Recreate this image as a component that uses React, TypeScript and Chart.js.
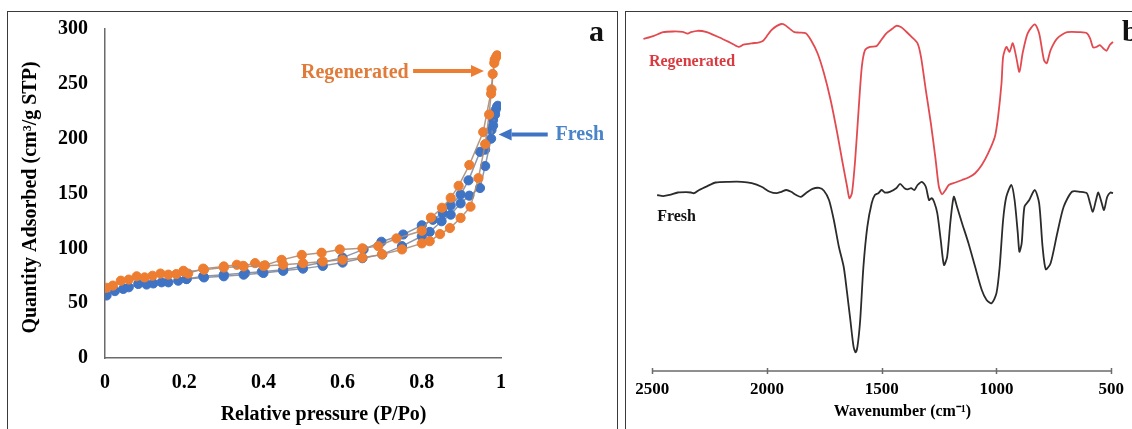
import React, { useEffect, useRef } from 'react';
import { Chart, registerables } from 'chart.js';
Chart.register(...registerables);

const SERIF = '"Liberation Serif", "Times New Roman", serif';
const ORANGE = '#ED7D31';
const BLUE = '#3F73C4';
const ORANGE_TEXT = '#E07B39';
const BLUE_TEXT = '#4A84C8';
const AXIS_GRAY = '#6b6b6b';
const RED = '#E34A50';
const RED_TEXT = '#D93A3F';
const BLACK = '#2b2b2b';

// ---------- Panel a: N2 isotherms ----------
const X_TICKS_A = [0, 0.2, 0.4, 0.6, 0.8, 1];
const Y_TICKS_A = [0, 50, 100, 150, 200, 250, 300];

const REGEN_ADS_P = [0.004, 0.02, 0.04, 0.06, 0.08, 0.1, 0.12, 0.14, 0.16, 0.18, 0.2, 0.25, 0.3, 0.35, 0.4, 0.45, 0.5, 0.55, 0.6, 0.65, 0.7, 0.75, 0.8, 0.82, 0.846, 0.871, 0.898, 0.923, 0.943, 0.96, 0.97, 0.975, 0.979, 0.983, 0.987];
const REGEN_ADS_Q = [64, 66, 70.5, 71.5, 74.5, 73.5, 75, 77, 76, 76.5, 78.5, 80.5, 82.5, 83.5, 84, 85, 86.5, 88, 89.5, 91.5, 94.5, 99, 104.5, 106.5, 113, 118.5, 127.7, 138, 164, 195, 222, 241, 259, 269, 274];
const REGEN_DES_P = [0.99, 0.984, 0.976, 0.955, 0.92, 0.893, 0.873, 0.851, 0.823, 0.8, 0.736, 0.69, 0.65, 0.593, 0.547, 0.497, 0.446, 0.404, 0.379, 0.349, 0.333, 0.3, 0.248, 0.21, 0.198];
const REGEN_DES_Q = [276, 272, 245, 206, 176, 157, 146, 137, 128, 116, 109, 102, 100, 99, 96, 94, 89.5, 84.5, 86.5, 84, 85, 83.5, 81.5, 77, 79.5];

const FRESH_ADS_P = [0.004, 0.025, 0.046, 0.06, 0.084, 0.105, 0.122, 0.143, 0.16, 0.185, 0.206, 0.25, 0.3, 0.35, 0.4, 0.45, 0.5, 0.55, 0.6, 0.65, 0.7, 0.75, 0.8, 0.82, 0.85, 0.873, 0.898, 0.92, 0.947, 0.96, 0.975, 0.98, 0.985, 0.99];
const FRESH_ADS_Q = [57, 61, 63, 64.5, 67.5, 67, 68, 69, 69, 70.5, 72, 73.5, 74.5, 76, 77.5, 79.5, 81.5, 84, 87, 91, 94.5, 102, 111, 115, 124.7, 130.7, 141, 148, 155, 175, 200, 212, 222, 229];
const FRESH_DES_P = [0.992, 0.986, 0.98, 0.976, 0.96, 0.947, 0.918, 0.898, 0.873, 0.853, 0.828, 0.8, 0.753, 0.698, 0.653, 0.6, 0.547, 0.497, 0.45, 0.396, 0.354, 0.3, 0.248, 0.206];
const FRESH_DES_Q = [230, 226, 217, 208, 190, 188, 162, 149, 139, 132, 126, 121, 112.6, 106, 99, 91.5, 87, 83.5, 80.5, 78.6, 77.5, 76, 74.5, 72];

// annotation anchors (data coordinates)
const REGEN_LABEL_A = [0.631, 260];
const REGEN_ARROW_A = [0.778, 0.957, 261.7];
const FRESH_LABEL_A = [1.199, 203.3];
const FRESH_ARROW_A = [1.118, 0.994, 203.9];

// ---------- Panel b: FTIR spectra ----------
const X_TICKS_B = [2500, 2000, 1500, 1000, 500];

const REGEN_WN = [2539, 2496, 2453, 2410, 2368, 2346, 2332, 2303, 2267, 2210, 2167, 2124, 2103, 2067, 2038, 2017, 2002, 1981, 1959, 1938, 1924, 1902, 1881, 1859, 1831, 1809, 1780, 1752, 1723, 1694, 1673, 1651, 1641, 1630, 1616, 1601, 1587, 1573, 1551, 1523, 1508, 1480, 1451, 1437, 1415, 1394, 1372, 1344, 1329, 1308, 1286, 1265, 1251, 1237, 1222, 1208, 1179, 1150, 1122, 1093, 1064, 1036, 1007, 993, 978, 971, 957, 943, 929, 914, 900, 886, 864, 833, 814, 793, 781, 764, 735, 692, 635, 606, 592, 578, 563, 549, 535, 520, 506, 492];
const REGEN_T = [93.0, 93.8, 94.9, 95.1, 95.0, 94.5, 94.9, 95.3, 95.0, 93.5, 92.2, 90.8, 91.4, 91.8, 92.0, 92.5, 93.7, 95.5, 96.6, 97.2, 97.0, 95.9, 94.9, 94.8, 94.6, 92.7, 89.0, 83.4, 75.9, 66.6, 59.1, 51.6, 48.4, 49.8, 59.1, 73.1, 85.2, 89.9, 90.8, 91.0, 92.2, 94.6, 96.0, 96.7, 96.3, 95.1, 93.7, 91.8, 88.0, 78.7, 69.4, 59.1, 51.6, 49.5, 50.7, 52.1, 52.8, 53.5, 54.2, 55.4, 57.7, 61.0, 65.6, 71.2, 80.6, 88.0, 90.8, 89.4, 91.8, 88.0, 83.8, 89.0, 94.6, 97.1, 94.6, 87.1, 86.2, 89.9, 93.2, 94.9, 94.9, 94.6, 93.2, 90.6, 90.8, 91.3, 90.4, 89.7, 91.3, 92.2];

const FRESH_WN = [2479, 2453, 2425, 2389, 2353, 2332, 2318, 2296, 2260, 2224, 2167, 2110, 2067, 2024, 1988, 1959, 1938, 1916, 1895, 1873, 1852, 1831, 1802, 1773, 1752, 1730, 1709, 1687, 1666, 1651, 1637, 1623, 1614, 1606, 1594, 1580, 1563, 1544, 1530, 1515, 1501, 1487, 1465, 1437, 1420, 1401, 1387, 1372, 1358, 1344, 1325, 1308, 1294, 1282, 1272, 1258, 1243, 1229, 1215, 1200, 1186, 1172, 1150, 1122, 1093, 1064, 1043, 1021, 1000, 986, 971, 957, 935, 921, 907, 900, 890, 878, 857, 833, 814, 799, 785, 764, 735, 707, 671, 635, 606, 592, 580, 566, 556, 541, 531, 517, 503, 492];
const FRESH_T = [49.3, 49.0, 49.3, 50.0, 50.1, 50.0, 49.8, 50.7, 51.8, 52.8, 53.0, 53.0, 52.6, 51.6, 50.2, 49.8, 50.2, 50.7, 50.2, 49.3, 48.8, 49.8, 51.0, 51.3, 50.5, 47.9, 42.3, 34.8, 29.2, 21.8, 14.3, 6.8, 5.2, 6.8, 14.3, 29.2, 40.4, 47.0, 49.3, 49.8, 50.7, 50.0, 50.2, 51.2, 52.4, 51.2, 50.9, 51.2, 50.7, 52.1, 53.0, 51.6, 47.9, 48.4, 47.4, 44.2, 36.7, 29.7, 32.0, 42.3, 48.8, 46.0, 41.4, 35.8, 29.2, 22.7, 19.9, 19.0, 21.8, 29.2, 42.3, 48.8, 52.1, 47.9, 38.6, 33.4, 35.8, 46.0, 47.9, 50.7, 47.0, 34.8, 28.5, 30.2, 38.6, 46.0, 50.2, 50.2, 49.8, 47.0, 44.6, 47.9, 50.0, 47.0, 45.1, 48.8, 50.0, 49.8];

const REGEN_LABEL_B = [2515, 86.6];
const FRESH_LABEL_B = [2479, 43.2];
const WN_TITLE_AT = 1410;

const zip = (xs: number[], ys: number[]) => xs.map((x, i) => ({ x, y: ys[i] }));

function isoSet(xs: number[], ys: number[], color: string, line: string) {
  return {
    data: zip(xs, ys),
    showLine: true,
    borderColor: line,
    borderWidth: 1.5,
    backgroundColor: color,
    pointBackgroundColor: color,
    pointBorderColor: color,
    pointBorderWidth: 1,
    pointRadius: 4.6,
    tension: 0,
  };
}

function arrow(ctx: CanvasRenderingContext2D, x1: number, x2: number, y: number, color: string) {
  const dir = x2 > x1 ? 1 : -1;
  const head = 13;
  ctx.save();
  ctx.strokeStyle = color;
  ctx.fillStyle = color;
  ctx.lineWidth = 4;
  ctx.beginPath();
  ctx.moveTo(x1, y);
  ctx.lineTo(x2 - dir * head, y);
  ctx.stroke();
  ctx.beginPath();
  ctx.moveTo(x2, y);
  ctx.lineTo(x2 - dir * head, y - 6);
  ctx.lineTo(x2 - dir * head, y + 6);
  ctx.closePath();
  ctx.fill();
  ctx.restore();
}

const annotA = {
  id: 'annotA',
  afterDraw(chart: any) {
    const { ctx, chartArea } = chart;
    const x = chart.scales.x;
    const y = chart.scales.y;
    ctx.save();
    ctx.textAlign = 'center';
    ctx.textBaseline = 'middle';
    ctx.font = `bold 20px ${SERIF}`;
    ctx.fillStyle = ORANGE_TEXT;
    ctx.fillText('Regenerated', x.getPixelForValue(REGEN_LABEL_A[0]), y.getPixelForValue(REGEN_LABEL_A[1]));
    arrow(ctx, x.getPixelForValue(REGEN_ARROW_A[0]), x.getPixelForValue(REGEN_ARROW_A[1]), y.getPixelForValue(REGEN_ARROW_A[2]), ORANGE);
    ctx.fillStyle = BLUE_TEXT;
    ctx.fillText('Fresh', x.getPixelForValue(FRESH_LABEL_A[0]), y.getPixelForValue(FRESH_LABEL_A[1]));
    arrow(ctx, x.getPixelForValue(FRESH_ARROW_A[0]), x.getPixelForValue(FRESH_ARROW_A[1]), y.getPixelForValue(FRESH_ARROW_A[2]), BLUE);
    // axis titles
    ctx.fillStyle = '#000';
    ctx.fillText('Relative pressure (P/Po)', x.getPixelForValue(0.552), chartArea.bottom + 57);
    ctx.translate(31, (chartArea.top + chartArea.bottom) / 2 + 4);
    ctx.rotate(-Math.PI / 2);
    ctx.fillText('Quantity Adsorbed (cm³/g STP)', 0, 0);
    ctx.restore();
  },
};

const annotB = {
  id: 'annotB',
  afterDraw(chart: any) {
    const { ctx, chartArea } = chart;
    const x = chart.scales.x;
    const y = chart.scales.y;
    const yb = chartArea.bottom;
    ctx.save();
    ctx.strokeStyle = AXIS_GRAY;
    ctx.lineWidth = 1.5;
    ctx.beginPath();
    ctx.moveTo(x.getPixelForValue(X_TICKS_B[0]), yb);
    ctx.lineTo(x.getPixelForValue(X_TICKS_B[X_TICKS_B.length - 1]), yb);
    for (const t of X_TICKS_B) {
      const px = Math.round(x.getPixelForValue(t)) + 0.5;
      ctx.moveTo(px, yb - 3);
      ctx.lineTo(px, yb + 3);
    }
    ctx.stroke();
    ctx.textAlign = 'left';
    ctx.textBaseline = 'middle';
    ctx.font = `bold 16px ${SERIF}`;
    ctx.fillStyle = RED_TEXT;
    ctx.fillText('Regenerated', x.getPixelForValue(REGEN_LABEL_B[0]), y.getPixelForValue(REGEN_LABEL_B[1]));
    ctx.fillStyle = '#111';
    ctx.fillText('Fresh', x.getPixelForValue(FRESH_LABEL_B[0]), y.getPixelForValue(FRESH_LABEL_B[1]));
    ctx.textAlign = 'center';
    ctx.font = `bold 16px ${SERIF}`;
    ctx.fillStyle = '#000';
    ctx.fillText('Wavenumber (cm⁻¹)', x.getPixelForValue(WN_TITLE_AT), yb + 41);
    ctx.restore();
  },
};

const tickFont = (size: number) => ({ family: SERIF, size, weight: 'bold' as const });

export default function App() {
  const refA = useRef<HTMLCanvasElement | null>(null);
  const refB = useRef<HTMLCanvasElement | null>(null);

  useEffect(() => {
    const chartA = new Chart(refA.current as HTMLCanvasElement, {
      type: 'scatter',
      data: {
        datasets: [
          isoSet(REGEN_ADS_P, REGEN_ADS_Q, ORANGE, 'rgba(170,140,120,0.9)'),
          isoSet(REGEN_DES_P, REGEN_DES_Q, ORANGE, 'rgba(170,140,120,0.9)'),
          isoSet(FRESH_ADS_P, FRESH_ADS_Q, BLUE, 'rgba(130,140,160,0.9)'),
          isoSet(FRESH_DES_P, FRESH_DES_Q, BLUE, 'rgba(130,140,160,0.9)'),
        ] as any,
      },
      options: {
        responsive: false,
        animation: false,
        layout: { padding: { top: 26, right: 119, left: 0, bottom: 0 } },
        plugins: { legend: { display: false }, tooltip: { enabled: false } },
        scales: {
          x: {
            type: 'linear',
            min: 0,
            max: 1,
            afterFit: (s: any) => { s.height = 71; },
            afterBuildTicks: (s: any) => { s.ticks = X_TICKS_A.map((v) => ({ value: v })); },
            grid: { display: false, drawTicks: false },
            border: { display: true, color: AXIS_GRAY, width: 1.5 },
            ticks: { padding: 13, color: '#000', font: tickFont(20), maxRotation: 0, autoSkip: false, callback: (v: any) => String(v) },
          },
          y: {
            type: 'linear',
            min: 0,
            max: 300,
            afterFit: (s: any) => { s.width = 105; },
            afterBuildTicks: (s: any) => { s.ticks = Y_TICKS_A.map((v) => ({ value: v })); },
            grid: { display: false, drawTicks: false },
            border: { display: true, color: AXIS_GRAY, width: 1.5 },
            ticks: { padding: 17, color: '#000', font: tickFont(20), autoSkip: false, callback: (v: any) => String(v) },
          },
        },
      } as any,
      plugins: [annotA],
    });

    const chartB = new Chart(refB.current as HTMLCanvasElement, {
      type: 'scatter',
      data: {
        datasets: [
          { data: zip(REGEN_WN, REGEN_T), showLine: true, borderColor: RED, borderWidth: 1.8, pointRadius: 0, tension: 0.25 },
          { data: zip(FRESH_WN, FRESH_T), showLine: true, borderColor: BLACK, borderWidth: 1.8, pointRadius: 0, tension: 0.25 },
        ] as any,
      },
      options: {
        responsive: false,
        animation: false,
        layout: { padding: { top: 14, right: 9.3, left: 20.9, bottom: 0 } },
        plugins: { legend: { display: false }, tooltip: { enabled: false } },
        scales: {
          x: {
            type: 'linear',
            reverse: true,
            min: 480,
            max: 2550,
            afterFit: (s: any) => { s.height = 58; },
            afterBuildTicks: (s: any) => { s.ticks = X_TICKS_B.map((v) => ({ value: v })); },
            grid: { display: false, drawTicks: false },
            border: { display: false },
            ticks: { padding: 8, color: '#000', font: tickFont(17), maxRotation: 0, autoSkip: false, callback: (v: any) => String(v) },
          },
          y: { type: 'linear', display: false, min: 0, max: 100 },
        },
      } as any,
      plugins: [annotB],
    });

    return () => {
      chartA.destroy();
      chartB.destroy();
    };
  }, []);

  return (
    <div style={{ position: 'fixed', left: 0, top: 0, width: 1132, height: 429, overflow: 'hidden', background: '#fff' }}>
      <div style={{ position: 'absolute', left: 7, top: 11, width: 609, height: 440, border: '1.5px solid #3a3a3a' }} />
      <div style={{ position: 'absolute', left: 625, top: 11, width: 540, height: 440, border: '1.5px solid #3a3a3a' }} />
      <canvas ref={refA} width={620} height={429} style={{ position: 'absolute', left: 0, top: 0 }} />
      <canvas ref={refB} width={512} height={429} style={{ position: 'absolute', left: 620, top: 0 }} />
      <div style={{ position: 'absolute', left: 589, top: 11, font: `bold 30px ${SERIF}`, color: '#111', lineHeight: '40px' }}>a</div>
      <div style={{ position: 'absolute', left: 1122, top: 11, font: `bold 30px ${SERIF}`, color: '#111', lineHeight: '40px' }}>b</div>
    </div>
  );
}
